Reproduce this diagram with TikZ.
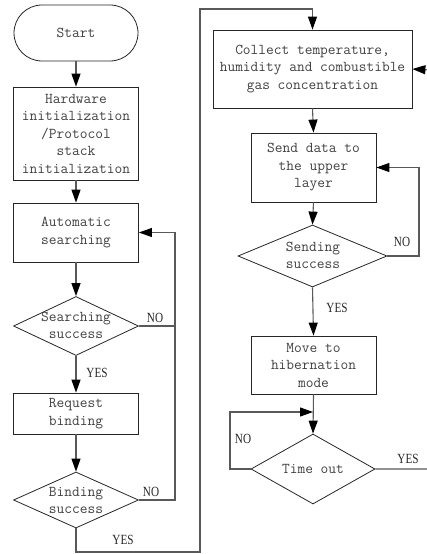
\documentclass[tikz,border=0pt]{standalone}
\usepackage{fontspec}
\newfontfamily\lblfont[FakeStretch=0.8]{Liberation Serif}
\usetikzlibrary{shapes.geometric,arrows.meta}
\begin{document}
\begin{tikzpicture}[x=1pt,y=-1pt,
  txt/.style={font=\fontsize{15}{17.5}\selectfont\ttfamily, text=black!75, align=center, inner sep=0pt},
  box/.style={draw=black!85, line width=0.8pt, txt},
  startbox/.style={box, rounded corners=28pt},
  dec/.style={diamond, draw=black!85, line width=0.8pt, inner sep=0pt},
  lbl/.style={font=\fontsize{14}{16}\selectfont\lblfont, text=black!85, inner sep=0pt},
  conn/.style={draw=black!65, line width=1.1pt},
  arr/.style={conn, -{Triangle[length=13pt,width=9pt,color=black]}}
]
\useasboundingbox (0,0) rectangle (426,554);

% left column
\node[startbox, minimum width=124pt, minimum height=56pt] (start) at (76,33) {Start};
\node[box, minimum width=125pt, minimum height=93pt] (hw) at (76,133.5) {Hardware\\initialization\\/Protocol\\stack\\initialization};
\node[box, minimum width=125pt, minimum height=59pt] (auto) at (76,232.5) {Automatic\\searching};
\node[dec, minimum width=125pt, minimum height=59pt] (search) at (76,326) {};
\node[txt] (searcht) at (76,325.5) {Searching\\success};
\node[box, minimum width=125pt, minimum height=41pt] (req) at (76,413.5) {Request\\binding};
\node[dec, minimum width=125pt, minimum height=56pt] (bind) at (76,500) {};
\node[txt] (bindt) at (76,500.5) {Binding\\success};

% right column
\node[box, minimum width=199pt, minimum height=78pt] (collect) at (312.5,69) {Collect temperature,\\humidity and combustible\\gas concentration};
\node[box, minimum width=125pt, minimum height=69pt] (send) at (313.5,167.5) {Send data to\\the upper\\layer};
\node[dec, minimum width=149pt, minimum height=62pt] (sending) at (312.5,256) {};
\node[txt] (sendingt) at (313,255.5) {Sending\\success};
\node[box, minimum width=125pt, minimum height=58pt] (move) at (313.5,365) {Move to\\hibernation\\mode};
\node[dec, minimum width=124pt, minimum height=70pt] (tout) at (313,469) {};
\node[txt] (toutt) at (313,469) {Time out};

\coordinate (nojoin) at (175,326);
\coordinate (loopin) at (313,412);

% connectors left
\draw[arr] (start.south) -- (hw.north);
\draw[arr] (hw.south) -- (auto.north);
\draw[arr] (auto.south) -- (search.north);
\draw[arr] (search.south) -- (req.north);
\draw[arr] (req.south) -- (bind.north);
\draw[conn] (search.east) -- (nojoin);
\draw[arr] (bind.east) -- (175,500) -- (nojoin) |- (auto.east);
\draw[arr] (bind.south) -- (76,552) -- (200,552) -- (200,9) -| (collect.north);

% connectors right
\draw[arr] (collect.south) -- (send.north);
\draw[arr] (send.south) -- (sending.north);
\draw[arr] (sending.east) -- (419,256) |- (send.east);
\draw[arr] (sending.south) -- (move.north);
\draw[arr] (move.south) -- (tout.north);
\draw[arr] (tout.west) -- (230,469) |- (loopin);
\draw[arr] (tout.east) -- (430,469) -- (430,70) -- (collect.east);

% labels
\node[lbl] (l1) at (155,318) {NO};
\node[lbl] (l2) at (97,373) {YES};
\node[lbl] (l3) at (151,492) {NO};
\node[lbl] (l4) at (123,540) {YES};
\node[lbl] (l5) at (402,242) {NO};
\node[lbl] (l6) at (337,308) {YES};
\node[lbl] (l7) at (243,439) {NO};
\node[lbl] (l8) at (408,459) {YES};
\end{tikzpicture}
\end{document}
